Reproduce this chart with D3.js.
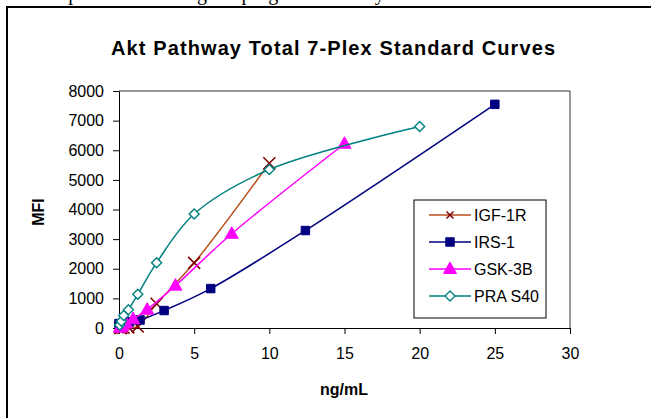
<!DOCTYPE html>
<html>
<head>
<meta charset="utf-8">
<script src="https://cdn.jsdelivr.net/npm/d3@7"></script>
<style>
  body { margin: 0; background: #fff; }
  svg { display: block; font-family: "Liberation Sans", Arial, sans-serif; }
</style>
</head>
<body>
<svg id="chart"></svg>
<script>
// values
const seriesNames = ["IGF-1R", "IRS-1", "GSK-3B", "PRAS40"];

const igfX = [0.078, 0.156, 0.3125, 0.625, 1.25, 2.5, 5, 10];
const igfY = [0, 5, 10, 20, 50, 820, 2200, 5560];

const irsX = [0, 0.35, 0.7, 1.4, 3.0, 6.1, 12.4, 25];
const irsY = [150, 170, 210, 270, 590, 1330, 3290, 7550];

const gskX = [0.06, 0.12, 0.23, 0.47, 0.94, 1.875, 3.75, 7.5, 15];
const gskY = [10, 40, 80, 150, 300, 620, 1430, 3180, 6220];

const prasX = [0.05, 0.16, 0.3125, 0.625, 1.25, 2.5, 5, 10, 20];
const prasY = [100, 230, 420, 620, 1140, 2200, 3850, 5350, 6800];

const xTicks = [0, 5, 10, 15, 20, 25, 30];
const yTicks = [0, 1000, 2000, 3000, 4000, 5000, 6000, 7000, 8000];

const width = 651;
const height = 418;

const svg = d3.select("#chart").attr("width", width).attr("height", height);

// cut-off line of document text above the chart (only descenders show)
svg.append("text")
  .attr("x", 46)
  .attr("y", 0)
  .attr("font-family", "Liberation Serif, Times New Roman, serif")
  .attr("font-size", 20)
  .text("Expected data using the program Excel by");

// outer chart frame (runs off right and bottom)
svg.append("rect")
  .attr("x", 7).attr("y", 7)
  .attr("width", 700).attr("height", 500)
  .attr("fill", "#fff")
  .attr("stroke", "#000")
  .attr("stroke-width", 2);

svg.append("text")
  .attr("x", 333)
  .attr("y", 55)
  .attr("text-anchor", "middle")
  .attr("font-size", 20)
  .attr("font-weight", "bold")
  .attr("textLength", 444)
  .attr("lengthAdjust", "spacing")
  .text("Akt Pathway Total 7-Plex Standard Curves");

const x = d3.scaleLinear().domain([0, 30]).range([119, 570]);
const y = d3.scaleLinear().domain([0, 8000]).range([328, 91]);

// plot frame top/right
svg.append("path")
  .attr("d", `M${x(0)},${y(8000)}H${x(30)}V${y(0)}`)
  .attr("fill", "none")
  .attr("stroke", "#333")
  .attr("stroke-width", 1);

const xAxis = svg.append("g")
  .attr("transform", `translate(0,${y(0)})`)
  .call(d3.axisBottom(x).tickValues(xTicks).tickSize(6).tickSizeOuter(0).tickPadding(14));

const yAxis = svg.append("g")
  .attr("transform", `translate(${x(0)},0)`)
  .call(d3.axisLeft(y).tickValues(yTicks).tickFormat(d3.format("d"))
    .tickSize(6).tickSizeOuter(0).tickPadding(9));

[xAxis, yAxis].forEach((g) => {
  g.selectAll("text").attr("font-size", 16).attr("fill", "#000").attr("font-family", null);
  g.selectAll("line, path").attr("stroke", "#000");
});

svg.append("text")
  .attr("x", 344)
  .attr("y", 395)
  .attr("text-anchor", "middle")
  .attr("font-size", 16)
  .attr("font-weight", "bold")
  .text("ng/mL");

svg.append("text")
  .attr("transform", "translate(44,212) rotate(-90)")
  .attr("text-anchor", "middle")
  .attr("font-size", 16)
  .attr("font-weight", "bold")
  .text("MFI");

const series = [
  { name: seriesNames[0], xs: igfX, ys: igfY, line: "#b8501e", mark: "#800000", shape: "x" },
  { name: seriesNames[1], xs: irsX, ys: irsY, line: "#000080", mark: "#000080", shape: "square" },
  { name: seriesNames[2], xs: gskX, ys: gskY, line: "#ff00ff", mark: "#ff00ff", shape: "triangle" },
  { name: seriesNames[3], xs: prasX, ys: prasY, line: "#008080", mark: "#008080", shape: "diamond" },
];

const line = d3.line()
  .x((d) => x(d[0]))
  .y((d) => y(d[1]))
  .curve(d3.curveCatmullRom.alpha(0.5));

function drawMarker(g, s) {
  if (s.shape === "x") {
    g.append("path").attr("d", "M-6,-6L6,6M-6,6L6,-6")
      .attr("stroke", s.mark).attr("stroke-width", 1.6).attr("fill", "none");
  } else if (s.shape === "square") {
    g.append("path").attr("d", d3.symbol(d3.symbolSquare, 72)())
      .attr("fill", s.mark).attr("stroke", s.mark).attr("stroke-width", 1);
  } else if (s.shape === "triangle") {
    g.append("path").attr("d", "M0,-7L6.5,4.5L-6.5,4.5Z")
      .attr("fill", s.mark).attr("stroke", s.mark).attr("stroke-width", 1);
  } else {
    g.append("path").attr("d", "M0,-5L5,0L0,5L-5,0Z")
      .attr("fill", "#fff").attr("stroke", s.mark).attr("stroke-width", 1.4);
  }
}

series.forEach((s) => {
  const pts = s.xs.map((v, i) => [v, s.ys[i]]);
  svg.append("path")
    .datum(pts)
    .attr("d", line)
    .attr("fill", "none")
    .attr("stroke", s.line)
    .attr("stroke-width", 1.5);

  svg.selectAll(null)
    .data(pts)
    .enter()
    .append("g")
    .attr("transform", (d) => `translate(${x(d[0])},${y(d[1])})`)
    .each(function () { drawMarker(d3.select(this), s); });
});

// legend
const legend = svg.append("g").attr("transform", "translate(414,200)");
legend.append("rect")
  .attr("width", 132).attr("height", 118)
  .attr("fill", "#fff").attr("stroke", "#000").attr("stroke-width", 1);

series.forEach((s, i) => {
  const row = legend.append("g").attr("transform", `translate(0,${15 + i * 27})`);
  row.append("line")
    .attr("x1", 15).attr("x2", 57)
    .attr("stroke", s.line).attr("stroke-width", 1.5);
  const m = row.append("g").attr("transform", "translate(36,0)");
  if (s.shape === "x") {
    m.append("path").attr("d", "M-3.5,-3.5L3.5,3.5M-3.5,3.5L3.5,-3.5")
      .attr("stroke", s.mark).attr("stroke-width", 1.5);
  } else {
    drawMarker(m, s);
  }
  row.append("text")
    .attr("x", 60).attr("y", 6)
    .attr("font-size", 16)
    .text(s.name === "PRAS40" ? "PRA S40" : s.name);
});
</script>
</body>
</html>
